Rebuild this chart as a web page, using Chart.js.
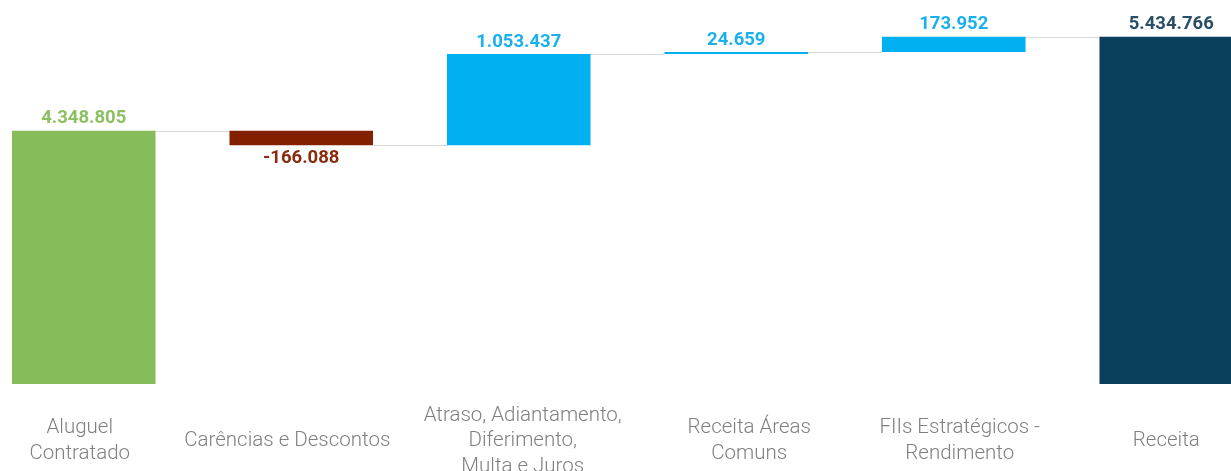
<!DOCTYPE html>
<html>
<head>
<meta charset="utf-8">
<script src="https://cdn.jsdelivr.net/npm/chart.js@4.4.1/dist/chart.umd.min.js"></script>
<style>
  html, body { margin: 0; padding: 0; background: #fff; overflow: hidden; }
  .wrap { position: absolute; left: -25px; top: 0; width: 1305px; height: 471px; }
</style>
</head>
<body>
<div class="wrap"><canvas id="myChart" width="1305" height="471"></canvas></div>
<script>
const categories = [
  ['Aluguel', 'Contratado'],
  ['Carências e Descontos'],
  ['Atraso, Adiantamento,', 'Diferimento,', 'Multa e Juros'],
  ['Receita Áreas', 'Comuns'],
  ['FIIs Estratégicos -', 'Rendimento'],
  ['Receita'],
];
const values = [4348805, -166088, 1053437, 24659, 173952, 5434766];
const kinds = ['total', 'delta', 'delta', 'delta', 'delta', 'total'];

const barColors = ['#86BC5A', '#822000', '#00B0F0', '#00B0F0', '#00B0F0', '#0B3F5E'];
const labelColors = ['#8CC063', '#8A2A0E', '#1AB0EE', '#1AB0EE', '#1AB0EE', '#2B4E68'];
// the category text boxes are not exactly centred under the bars
const labelShift = [-4, -14, 4, 13, 6, -5];

// floating ranges for the waterfall
const ranges = [];
const levels = [];
let running = 0;
values.forEach((v, i) => {
  if (kinds[i] === 'total') {
    ranges.push([0, v]);
    running = v;
  } else {
    ranges.push([running, running + v]);
    running += v;
  }
  levels.push(running);
});

function fmt(n) {
  const s = Math.abs(n).toString().replace(/\B(?=(\d{3})+(?!\d))/g, '.');
  return (n < 0 ? '-' : '') + s;
}

const waterfallPlugin = {
  id: 'waterfall',
  beforeDatasetsDraw(chart) {
    const ctx = chart.ctx;
    const meta = chart.getDatasetMeta(0);
    const y = chart.scales.y;
    ctx.save();
    ctx.strokeStyle = '#D9D9D9';
    ctx.lineWidth = 1;
    for (let i = 0; i < meta.data.length - 1; i++) {
      const a = meta.data[i];
      const b = meta.data[i + 1];
      const py = Math.round(y.getPixelForValue(levels[i])) + 0.5;
      ctx.beginPath();
      ctx.moveTo(a.x + a.width / 2, py);
      ctx.lineTo(b.x - b.width / 2, py);
      ctx.stroke();
    }
    ctx.restore();
  },
  afterDatasetsDraw(chart) {
    const ctx = chart.ctx;
    const meta = chart.getDatasetMeta(0);
    const y = chart.scales.y;
    ctx.save();
    ctx.textAlign = 'center';
    ctx.textBaseline = 'middle';
    ctx.font = 'bold 18.5px Roboto';
    meta.data.forEach((bar, i) => {
      const v = values[i];
      ctx.fillStyle = labelColors[i];
      if (v >= 0) {
        const top = y.getPixelForValue(ranges[i][1]);
        ctx.fillText(fmt(v), bar.x, top - 12);
      } else {
        const bottom = y.getPixelForValue(ranges[i][1]);
        ctx.fillText(fmt(v), bar.x, bottom + 13);
      }
    });

    // category labels, vertically centred under the bars
    ctx.font = '300 20.5px Roboto';
    ctx.fillStyle = '#7F7F7F';
    const lineH = 25.5;
    const centerY = 441;
    meta.data.forEach((bar, i) => {
      const lines = categories[i];
      const start = centerY - ((lines.length - 1) * lineH) / 2;
      lines.forEach((line, j) => {
        ctx.fillText(line, bar.x + labelShift[i], start + j * lineH);
      });
    });
    ctx.restore();
  },
};

const ctx = document.getElementById('myChart').getContext('2d');

const chart = new Chart(ctx, {
  type: 'bar',
  data: {
    labels: categories.map((c) => c.join(' ')),
    datasets: [
      {
        data: ranges,
        backgroundColor: barColors,
        borderWidth: 0,
        borderSkipped: false,
        categoryPercentage: 1,
        barPercentage: 0.66,
      },
    ],
  },
  options: {
    responsive: false,
    animation: false,
    devicePixelRatio: 1,
    layout: {
      padding: { top: 10, bottom: 87, left: 0, right: 0 },
    },
    scales: {
      x: { display: false },
      y: { display: false, min: 1425000, max: 5745000 },
    },
    plugins: {
      legend: { display: false },
      tooltip: { enabled: false },
    },
  },
  plugins: [waterfallPlugin],
});
</script>
</body>
</html>
